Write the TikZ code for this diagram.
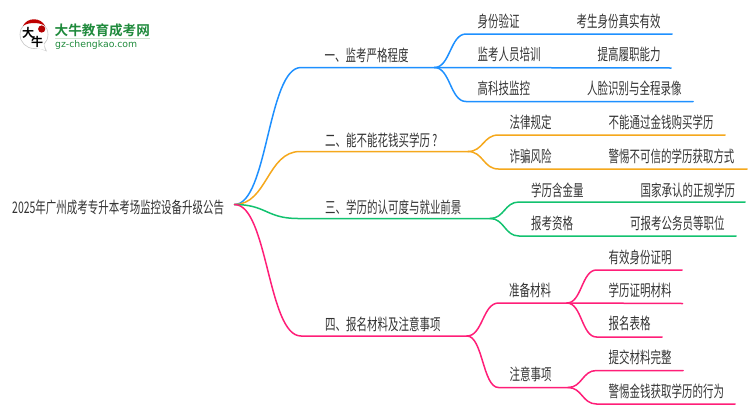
\documentclass[tikz,border=0pt]{standalone}
\usepackage{fontspec}
\setmainfont{Noto Sans CJK SC}[FakeStretch=0.655]
\newfontfamily\logofont{Noto Sans CJK SC}[BoldFont={* Bold}]
\newfontfamily\latinlogo{DejaVu Sans}
\definecolor{cblue}{HTML}{1E90FF}
\definecolor{corange}{HTML}{F5A81C}
\definecolor{cgreen}{HTML}{12C26F}
\definecolor{cpink}{HTML}{FF1E78}
\definecolor{ctext}{HTML}{333333}
\definecolor{logogreen}{HTML}{1F8A3C}
\tikzset{
  x=1pt,y=-1pt,
  lab/.style={anchor=west,inner sep=0pt,text=ctext,font=\fontsize{16}{16}\selectfont},
  conn/.style={line width=1.5pt,line cap=round},
  fork/.style={conn,to path={.. controls ($(\tikztostart)!0.5!(\tikztotarget |- \tikztostart)$) and ($(\tikztotarget)!0.5!(\tikztostart |- \tikztotarget)$) .. (\tikztotarget)}},
  pt/.style={coordinate}
}
\usetikzlibrary{calc}
\begin{document}
\begin{tikzpicture}
\useasboundingbox (0,0) rectangle (750,410);
% coordinates
\node[pt] (root) at (234.5,204.5) {};
\node[pt] (a0) at (301,67.5) {}; \node[pt] (a) at (434.5,67.5) {};
\node[pt] (a1s) at (466,34) {}; \node[pt] (a1e) at (672,34) {};
\node[pt] (a2e) at (671,68) {};
\node[pt] (a3s) at (466,101.5) {}; \node[pt] (a3e) at (693,101.5) {};
\node[pt] (b0) at (300,151.5) {}; \node[pt] (b) at (468,151.5) {};
\node[pt] (b1s) at (498.5,135) {}; \node[pt] (b1e) at (725,135) {};
\node[pt] (b2s) at (498.5,169) {}; \node[pt] (b2e) at (747,169) {};
\node[pt] (c0) at (298,218.5) {}; \node[pt] (c) at (490,218.5) {};
\node[pt] (c1s) at (519,202) {}; \node[pt] (c1e) at (745,202) {};
\node[pt] (c2s) at (519,236) {}; \node[pt] (c2e) at (736,236) {};
\node[pt] (d0) at (301,336) {}; \node[pt] (d) at (467,336) {};
\node[pt] (e0) at (498.5,303) {}; \node[pt] (e) at (567,303) {};
\node[pt] (f0) at (498.5,387.5) {}; \node[pt] (f) at (568,387.5) {};
\node[pt] (e1s) at (596.5,270) {}; \node[pt] (e1e) at (682,270) {};
\node[pt] (e2e) at (682.5,303.5) {};
\node[pt] (e3s) at (596.5,337) {}; \node[pt] (e3e) at (662,337) {};
\node[pt] (f1s) at (596.5,370.5) {}; \node[pt] (f1e) at (683,370.5) {};
\node[pt] (f2s) at (596.5,404) {}; \node[pt] (f2e) at (735,404) {};
% connectors
\draw[conn,cblue] (root) to[fork] (a0) -- (a);
\draw[conn,cblue] (a) to[fork] (a1s) -- (a1e);
\draw[conn,cblue] (a) -- (a2e);
\draw[conn,cblue] (a) to[fork] (a3s) -- (a3e);
\draw[conn,corange] (root) to[fork] (b0) -- (b);
\draw[conn,corange] (b) to[fork] (b1s) -- (b1e);
\draw[conn,corange] (b) to[fork] (b2s) -- (b2e);
\draw[conn,cgreen] (root) to[fork] (c0) -- (c);
\draw[conn,cgreen] (c) to[fork] (c1s) -- (c1e);
\draw[conn,cgreen] (c) to[fork] (c2s) -- (c2e);
\draw[conn,cpink] (root) to[fork] (d0) -- (d);
\draw[conn,cpink] (d) to[fork] (e0) -- (e);
\draw[conn,cpink] (d) to[fork] (f0) -- (f);
\draw[conn,cpink] (e) to[fork] (e1s) -- (e1e);
\draw[conn,cpink] (e) -- (e2e);
\draw[conn,cpink] (e) to[fork] (e3s) -- (e3e);
\draw[conn,cpink] (f) to[fork] (f1s) -- (f1e);
\draw[conn,cpink] (f) to[fork] (f2s) -- (f2e);
% labels
\node[lab] (t0) at (12,207) {2025年广州成考专升本考场监控设备升级公告};
\node[lab] (ta) at (324.5,55.5) {一、监考严格程度};
\node[lab] (tb) at (325,140) {二、能不能花钱买学历\hspace{2.5pt}?};
\node[lab] (tc) at (325,207) {三、学历的认可度与就业前景};
\node[lab] (td) at (325,324) {四、报名材料及注意事项};
\node[lab] (ta1) at (477.5,21.5) {身份验证};
\node[lab] (ta1b) at (576.5,21.5) {考生身份真实有效};
\node[lab] (ta2) at (477.5,54.5) {监考人员培训};
\node[lab] (ta2b) at (597.5,54.5) {提高履职能力};
\node[lab] (ta3) at (477.5,88.5) {高科技监控};
\node[lab] (ta3b) at (587,88.5) {人脸识别与全程录像};
\node[lab] (tb1) at (509.5,122) {法律规定};
\node[lab] (tb1b) at (608.5,122) {不能通过金钱购买学历};
\node[lab] (tb2) at (509.5,156) {诈骗风险};
\node[lab] (tb2b) at (608.5,156) {警惕不可信的学历获取方式};
\node[lab] (tc1) at (531,190) {学历含金量};
\node[lab] (tc1b) at (640.5,190) {国家承认的正规学历};
\node[lab] (tc2) at (531,223) {报考资格};
\node[lab] (tc2b) at (630,223) {可报考公务员等职位};
\node[lab] (te) at (509,290) {准备材料};
\node[lab] (tf) at (509.5,374) {注意事项};
\node[lab] (te1) at (608.5,257) {有效身份证明};
\node[lab] (te2) at (608.5,290) {学历证明材料};
\node[lab] (te3) at (608.5,323.5) {报名表格};
\node[lab] (tf1) at (608.5,357) {提交材料完整};
\node[lab] (tf2) at (608.5,391) {警惕金钱获取学历的行为};
% logo
\fill[gray!35] (30,45) -- (47,51.5) -- (43,42) -- cycle;
\draw[gray!45,fill=white,line width=0.6pt] (34,34.5) circle (14);
\fill[white] (33,47) -- (45,50) -- (43,41) -- cycle;
\fill[red!75!black] (23,26) .. controls (27,17) and (41,17) .. (45,26) .. controls (40,22) and (28,22) .. (23,26) -- cycle;
\fill[red!70!black] (41.7,29) circle (3.6);
\node[inner sep=0pt,text=black] (lg1) at (28,33) {\logofont\fontsize{12}{12}\selectfont\bfseries 大};
\node[inner sep=0pt,text=black] (lg2) at (37,42) {\logofont\fontsize{12}{12}\selectfont\bfseries 牛};
\node[anchor=west,inner sep=0pt,text=logogreen] (lg3) at (54.5,30) {\logofont\fontsize{13.6}{14}\selectfont\bfseries 大牛教育成考网};
\draw[green!30!gray!30,line width=0.6pt] (55,38.5) -- (150,38.5);
\node[anchor=west,inner sep=0pt,text=logogreen] (lg4) at (55,45) {\latinlogo\fontsize{9.3}{10}\selectfont gz-chengkao.com};
\end{tikzpicture}
\end{document}
